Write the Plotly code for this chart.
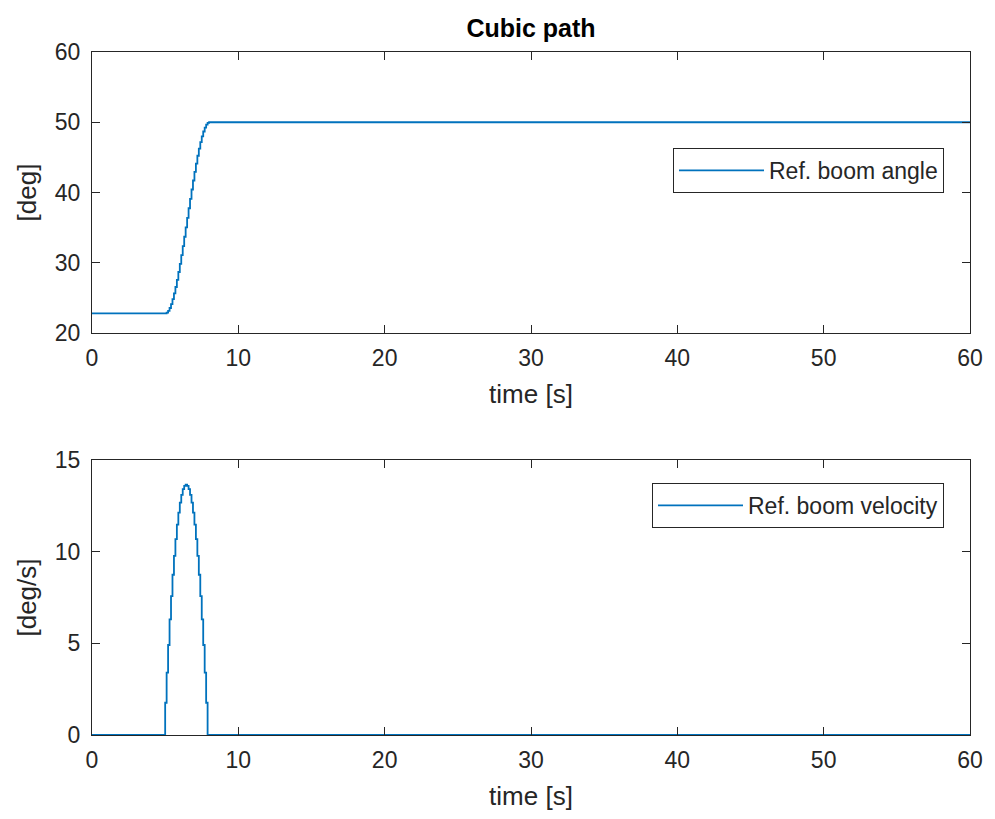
import plotly.graph_objects as go

# ---- data ----
time_angle = [0, 5.0, 5.1, 5.2, 5.3, 5.4, 5.5, 5.6, 5.7, 5.8, 5.9, 6.0, 6.1, 6.2, 6.3, 6.4, 6.5,
              6.6, 6.7, 6.8, 6.9, 7.0, 7.1, 7.2, 7.3, 7.4, 7.5, 7.6, 7.7, 7.8, 7.9, 8.0, 60]
boom_angle = [22.8, 22.8, 22.89, 23.15, 23.56, 24.12, 24.81, 25.63, 26.55, 27.57, 28.68, 29.85,
              31.09, 32.37, 33.70, 35.04, 36.40, 37.76, 39.10, 40.43, 41.71, 42.95, 44.12,
              45.23, 46.25, 47.17, 47.99, 48.68, 49.24, 49.65, 49.91, 50.0, 50.0]

time_vel = [0, 5.0, 5.1, 5.2, 5.3, 5.4, 5.5, 5.6, 5.7, 5.8, 5.9, 6.0, 6.1, 6.2, 6.3, 6.4, 6.5,
            6.6, 6.7, 6.8, 6.9, 7.0, 7.1, 7.2, 7.3, 7.4, 7.5, 7.6, 7.7, 7.8, 7.9, 8.0, 60]
boom_velocity = [0, 1.76, 3.40, 4.91, 6.31, 7.58, 8.74, 9.77, 10.68, 11.47, 12.13, 12.68, 13.10,
                 13.41, 13.59, 13.65, 13.59, 13.41, 13.10, 12.68, 12.13, 11.47, 10.68, 9.77,
                 8.74, 7.58, 6.31, 4.91, 3.40, 1.76, 0.0, 0, 0]

x_ticks = [0, 10, 20, 30, 40, 50, 60]
angle_ticks = [20, 30, 40, 50, 60]
vel_ticks = [0, 5, 10, 15]

title_text = "Cubic path"
xlabel = "time [s]"
ylabel_angle = "[deg]"
ylabel_vel = "[deg/s]"
name_angle = "Ref. boom angle"
name_vel = "Ref. boom velocity"

# ---- styling ----
W, H = 995, 819
OFF = 8  # page body margin
line_color = "#0072BD"
axis_color = "#262626"
font_family = "Liberation Sans, Arial, sans-serif"

fig = go.Figure()
fig.add_trace(go.Scatter(x=time_angle, y=boom_angle, mode="lines", name=name_angle,
                         line=dict(color=line_color, width=1.8, shape="hv"),
                         xaxis="x", yaxis="y", legend="legend"))
fig.add_trace(go.Scatter(x=time_vel, y=boom_velocity, mode="lines", name=name_vel,
                         line=dict(color=line_color, width=1.8, shape="hv"),
                         xaxis="x2", yaxis="y2", legend="legend2"))


def px_x(p):
    return (p - OFF) / W


def px_y(p):
    return 1 - (p - OFF) / H


x_dom = [px_x(92), px_x(970)]
top_dom = [px_y(333), px_y(52)]
bot_dom = [px_y(735), px_y(460)]

axis_common = dict(showline=True, linecolor=axis_color, linewidth=1, mirror="ticks",
                   ticks="inside", ticklen=8, tickcolor=axis_color, tickwidth=1,
                   showgrid=False, zeroline=False, automargin=False,
                   tickfont=dict(family=font_family, size=23, color=axis_color))

title_font = dict(family=font_family, size=26, color=axis_color)

legend_common = dict(bgcolor="white", bordercolor=axis_color, borderwidth=1,
                     font=dict(family=font_family, size=23, color=axis_color),
                     xanchor="right", yanchor="top", itemwidth=85,
                     tracegroupgap=0)

fig.update_layout(
    template="none",
    width=W, height=H,
    margin=dict(l=0, r=0, t=0, b=0),
    paper_bgcolor="white", plot_bgcolor="white",
    showlegend=True,
    title=dict(text="<b>" + title_text + "</b>", x=px_x(531), xanchor="center",
               y=px_y(28), yanchor="middle",
               font=dict(family=font_family, size=25, color="black")),
    xaxis=dict(domain=x_dom, anchor="y", range=[0, 60], tickvals=x_ticks,
               ticklabelstandoff=4,
               title=dict(text=xlabel, standoff=15, font=title_font),
               **axis_common),
    yaxis=dict(domain=top_dom, anchor="x", range=[20, 60], tickvals=angle_ticks,
               ticklabelstandoff=6,
               title=dict(text=ylabel_angle, standoff=10, font=title_font),
               **axis_common),
    xaxis2=dict(domain=x_dom, anchor="y2", range=[0, 60], tickvals=x_ticks,
                ticklabelstandoff=4,
                title=dict(text=xlabel, standoff=15, font=title_font),
                **axis_common),
    yaxis2=dict(domain=bot_dom, anchor="x2", range=[0, 15], tickvals=vel_ticks,
                ticklabelstandoff=6,
                title=dict(text=ylabel_vel, standoff=10, font=title_font),
                **axis_common),
    legend=dict(x=px_x(944), y=px_y(148), **legend_common),
    legend2=dict(x=px_x(944), y=px_y(483), **legend_common),
)

fig.write_html("out.html")
